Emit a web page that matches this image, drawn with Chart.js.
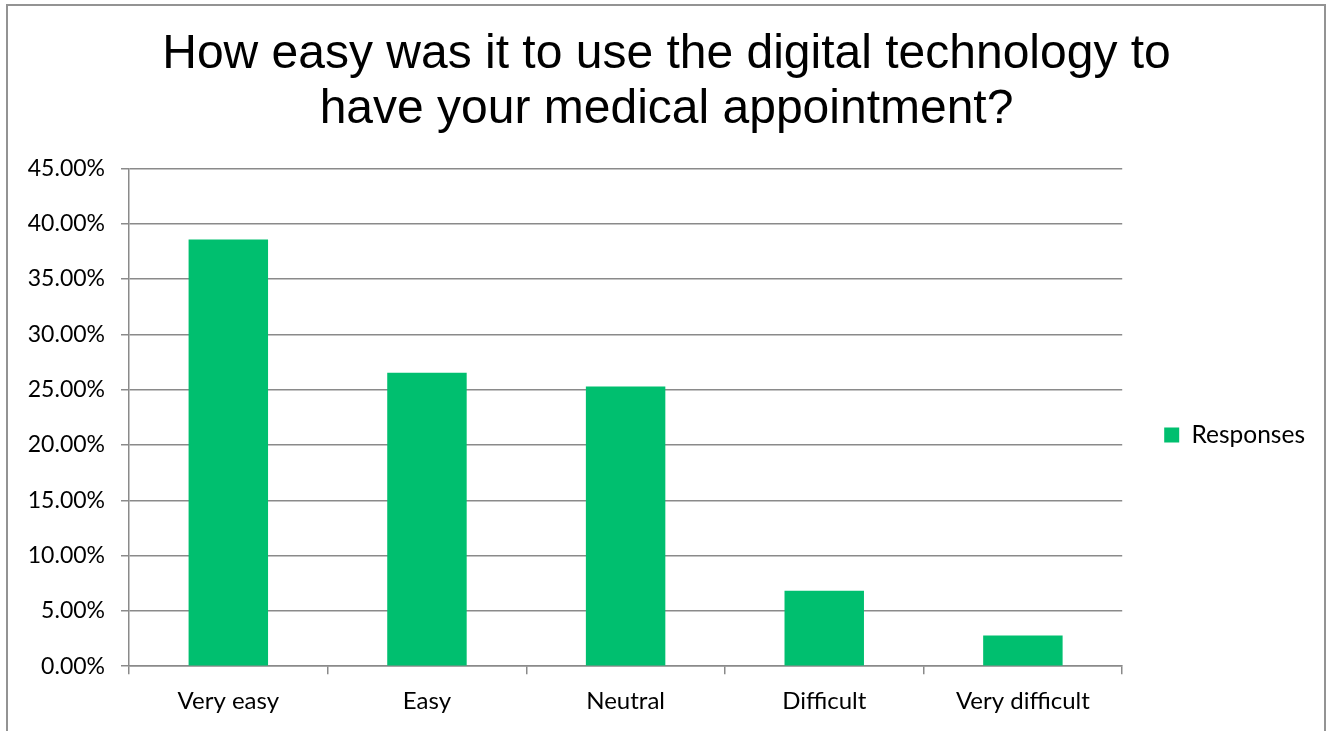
<!DOCTYPE html>
<html>
<head>
<meta charset="utf-8">
<script src="https://cdn.jsdelivr.net/npm/chart.js@4.4.0/dist/chart.umd.min.js"></script>
<style>
  html, body { margin:0; padding:0; background:#fff; overflow:hidden; }
  .frame { position:absolute; left:6px; top:4px; width:1320px; height:760px; border:2px solid #939393; box-sizing:border-box; }
  #chart { position:absolute; left:0; top:0; }
</style>
</head>
<body>
<div class="frame"></div>
<canvas id="chart" width="1333" height="731"></canvas>
<script>
// data
const categories = ['Very easy', 'Easy', 'Neutral', 'Difficult', 'Very difficult'];
const responses  = [38.58, 26.53, 25.29, 6.82, 2.78];
const seriesName = 'Responses';
const yMax = 45;
const yStep = 5;

const gridGray = '#8a8a8a';
const fontFam = 'Lato, "Open Sans", sans-serif';

new Chart(document.getElementById('chart'), {
  type: 'bar',
  data: {
    labels: categories,
    datasets: [{
      label: seriesName,
      data: responses,
      backgroundColor: '#00bf6f',
      borderWidth: 0,
      categoryPercentage: 1,
      barPercentage: 0.4
    }]
  },
  options: {
    responsive: false,
    animation: false,
    // equal side padding keeps the title centred on the page
    layout: { padding: { top: 5, left: 18, right: 18, bottom: 2 } },
    plugins: {
      title: {
        display: true,
        text: ['How easy was it to use the digital technology to', 'have your medical appointment?'],
        color: '#000',
        font: { family:'"Liberation Sans", Arial, sans-serif', size:48, weight:'normal', lineHeight:1.15 },
        padding: { top: 22, bottom: 31 }
      },
      legend: {
        position: 'right',
        fullSize: false,
        title: { display:true, text:'', font:{ size:1 }, padding:{ top:34, bottom:0 } },
        labels: { boxWidth:15, boxHeight:15, color:'#000', font:{ family:fontFam, size:24.5 }, padding: 42 }
      },
      tooltip: { enabled:false }
    },
    scales: {
      x: {
        offset: true,
        grid: { drawOnChartArea:false, drawTicks:true, tickLength:8, color:gridGray, lineWidth:1.5, offset:true },
        border: { color:gridGray, width:1.5 },
        ticks: { color:'#000', font:{ family:fontFam, size:24 }, padding: 13 }
      },
      y: {
        min: 0, max: yMax,
        afterFit: scale => { scale.width = 111; },
        grid: { color:gridGray, lineWidth:1.5, tickLength:8 },
        border: { color:gridGray, width:1.5 },
        ticks: { stepSize: yStep, color:'#000', font:{ family:fontFam, size:23 }, padding: 16,
                 callback: v => v.toFixed(2) + '%' }
      }
    }
  }
});
</script>
</body>
</html>
